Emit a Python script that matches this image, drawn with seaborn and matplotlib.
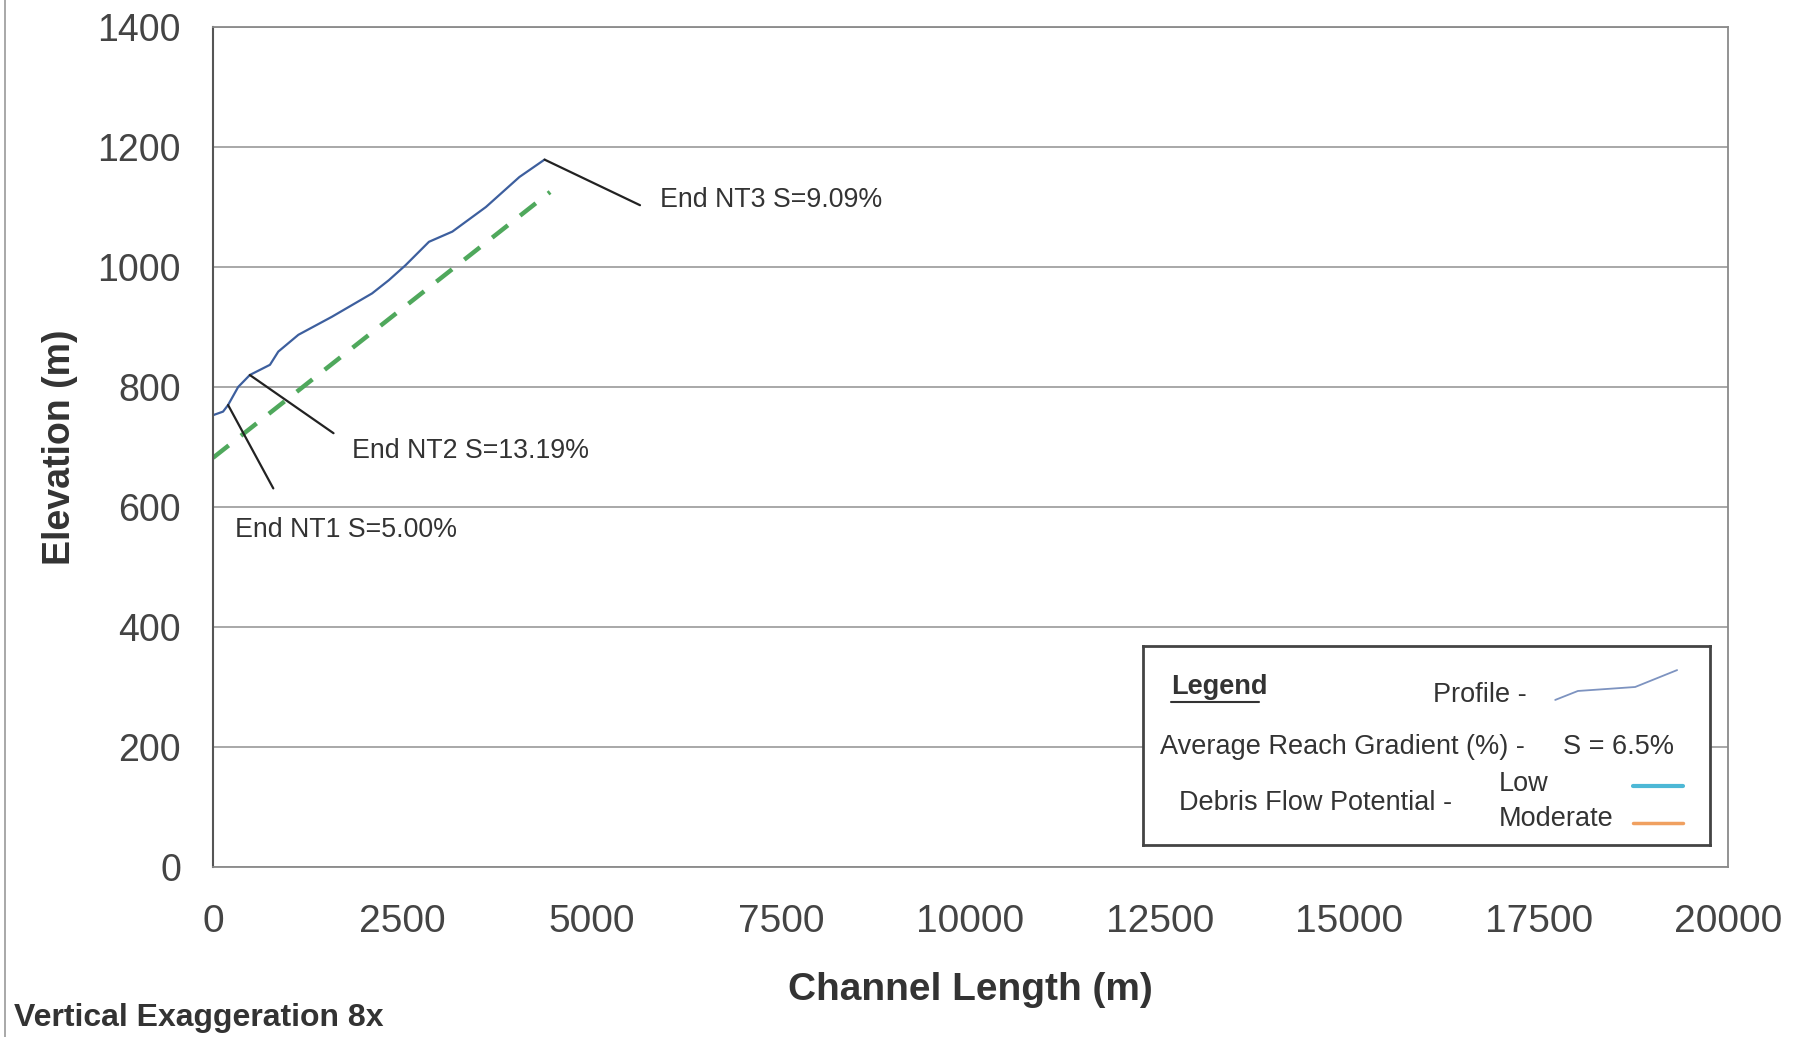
import matplotlib
matplotlib.use('Agg')
import matplotlib.pyplot as plt
import seaborn as sns
import pandas as pd
from matplotlib.lines import Line2D

# ─── Data ────────────────────────────────────────────────────────────────────
profile_x = [0, 133, 199, 332, 486, 752, 862, 1127, 1569, 2100, 2321, 2542,
             2851, 3160, 3603, 4045, 4377]
profile_y = [753, 759, 770, 800, 820, 837, 859, 887, 917, 956, 978, 1003,
             1042, 1059, 1100, 1150, 1179]

grad_x = [0, 4450]
grad_y = [682, 1125]

reach_labels = ["End NT1 S=5.00%", "End NT2 S=13.19%", "End NT3 S=9.09%"]
end_x = [199, 486, 4377]
end_y = [770, 820, 1179]
leader_x = [796, 1591, 5637]
leader_y = [631, 723, 1103]
label_x = [288, 1830, 5900]
label_y = [562, 694, 1112]

x_ticks = [0, 2500, 5000, 7500, 10000, 12500, 15000, 17500, 20000]
y_ticks = [0, 200, 400, 600, 800, 1000, 1200, 1400]

# legend swatch shape (axes fraction inside the legend box)
swatch_x = [0.727, 0.767, 0.868, 0.942]
swatch_y = [0.729, 0.774, 0.794, 0.879]

sns.set_style("white")
plt.rcParams['font.family'] = ['Liberation Sans', 'DejaVu Sans']

fig = plt.figure(figsize=(17.93, 10.37), dpi=100)
ax = fig.add_axes([213 / 1793, 1 - 867 / 1037, (1728 - 213) / 1793, (867 - 27) / 1037])

df = pd.DataFrame({"x": profile_x, "y": profile_y})
gdf = pd.DataFrame({"x": grad_x, "y": grad_y})

sns.lineplot(data=df, x="x", y="y", sort=False, ax=ax, color="#3d5f9e", linewidth=1.6)
sns.lineplot(data=gdf, x="x", y="y", sort=False, ax=ax, color="#4fa85c",
             linewidth=3.2, linestyle=(0, (4.5, 3.5)))

# leader lines + labels
for lab, ex, ey, lx, ly, tx, ty in zip(reach_labels, end_x, end_y, leader_x,
                                       leader_y, label_x, label_y):
    ax.plot([ex, lx], [ey, ly], color="#222222", linewidth=1.6)
    ax.text(tx, ty, lab, fontsize=19.3, color="#333333", ha="left", va="center")

ax.set_xlim(0, 20000)
ax.set_ylim(0, 1400)
ax.set_xticks(x_ticks)
ax.set_yticks(y_ticks)
ax.tick_params(axis='both', colors="#444444", direction='out')
ax.tick_params(axis='x', labelsize=28, length=10, width=1.2, pad=17, color="#666666")
ax.tick_params(axis='y', labelsize=27, length=9, width=1.2, pad=14, color="#666666")
ax.yaxis.grid(True, color="#9a9a9a", linewidth=1.2)
ax.xaxis.grid(False)

for side in ['top', 'right', 'bottom']:
    ax.spines[side].set_color("#8a8a8a")
    ax.spines[side].set_linewidth(1.3)
ax.spines['left'].set_color("#555555")
ax.spines['left'].set_linewidth(1.5)

ax.set_xlabel("Channel Length (m)", fontsize=28, fontweight='bold', color="#333333", labelpad=23)
ax.set_ylabel("Elevation (m)", fontsize=27, fontweight='bold', color="#333333", labelpad=14)

# ─── Legend box ──────────────────────────────────────────────────────────────
lg = fig.add_axes([1143 / 1793, 1 - 845 / 1037, (1710 - 1143) / 1793, (845 - 646) / 1037])
lg.set_xlim(0, 1)
lg.set_ylim(0, 1)
lg.set_xticks([])
lg.set_yticks([])
lg.set_facecolor("white")
for s in lg.spines.values():
    s.set_color("#444444")
    s.set_linewidth(2)

tc = "#333333"
fs = 19.5
lg.text(0.049, 0.794, "Legend", fontsize=fs, fontweight='bold', color=tc, ha='left', va='center')
lg.plot([0.049, 0.205], [0.72, 0.72], color=tc, linewidth=1.5)
lg.text(0.677, 0.754, "Profile -", fontsize=fs, color=tc, ha='right', va='center')
lg.plot(swatch_x, swatch_y, color="#7d93c0", linewidth=1.3)
lg.text(0.674, 0.492, "Average Reach Gradient (%) -", fontsize=fs, color=tc, ha='right', va='center')
lg.text(0.741, 0.492, "S = 6.5%", fontsize=fs, color=tc, ha='left', va='center')
lg.text(0.545, 0.211, "Debris Flow Potential -", fontsize=fs, color=tc, ha='right', va='center')
lg.text(0.628, 0.307, "Low", fontsize=fs, color=tc, ha='left', va='center')
lg.text(0.628, 0.131, "Moderate", fontsize=fs, color=tc, ha='left', va='center')
lg.plot([0.864, 0.952], [0.296, 0.296], color="#4db8d6", linewidth=3)
lg.plot([0.864, 0.952], [0.111, 0.111], color="#f0a060", linewidth=2.5)

fig.text(14 / 1793, 1 - 1018 / 1037, "Vertical Exaggeration 8x", fontsize=23,
         fontweight='bold', color="#333333", ha='left', va='center')

# faint scan edge on the left
fig.add_artist(Line2D([0.003, 0.003], [0, 1], transform=fig.transFigure,
                      color="#999999", linewidth=1.2))

fig.savefig("out.png", dpi=100)
